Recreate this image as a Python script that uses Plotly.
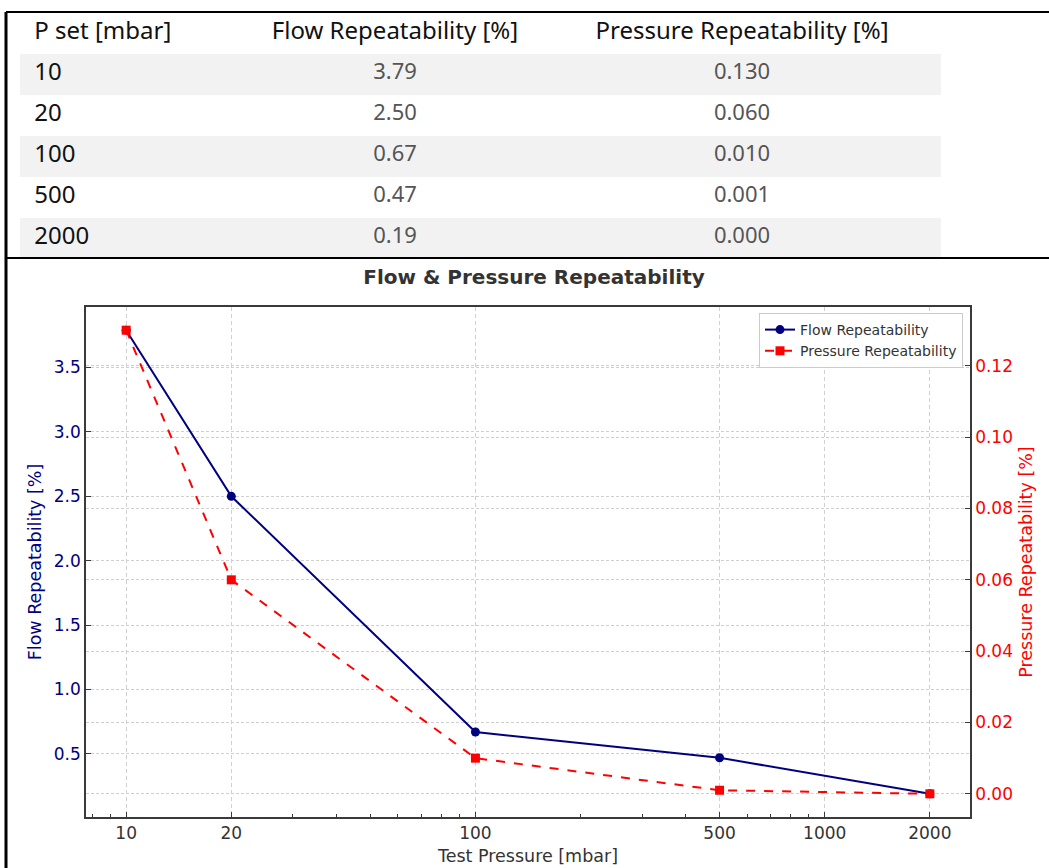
import plotly.graph_objects as go

# ---- data ----
pressure_set = [10, 20, 100, 500, 2000]
flow_rep = [3.79, 2.50, 0.67, 0.47, 0.19]
press_rep = [0.130, 0.060, 0.010, 0.001, 0.000]
table_headers = ["P set [mbar]", "Flow Repeatability [%]", "Pressure Repeatability [%]"]
flow_txt = ["3.79", "2.50", "0.67", "0.47", "0.19"]
press_txt = ["0.130", "0.060", "0.010", "0.001", "0.000"]
x_ticks = [10, 20, 100, 500, 1000, 2000]
x_minor = [8, 9, 30, 40, 50, 60, 70, 80, 90, 200, 300, 400, 600, 700, 800, 900]

W, H = 1049, 868
def px(x): return x / W
def py(y): return 1 - y / H

NAVY = "#000080"
RED = "#ff0000"
DARK = "#333333"
FONT = "DejaVu Sans"
NB = "\u00a0"

fig = go.Figure()

# ---- table ----
shade = "#f2f2f2"
row_fill = [shade if i % 2 == 0 else "white" for i in range(len(pressure_set))]
fig.add_trace(go.Table(
    domain=dict(x=[px(20), px(941)], y=[py(259), py(13)]),
    columnwidth=[227, 296, 398],
    header=dict(
        values=[NB + table_headers[0], table_headers[1], table_headers[2]],
        align=["left", "center", "center"],
        fill_color="white",
        line=dict(width=0, color="white"),
        font=dict(family="Noto Sans", size=24, color="#111111"),
        height=41,
    ),
    cells=dict(
        values=[[NB + str(v) for v in pressure_set], flow_txt, press_txt],
        align=["left", "center", "center"],
        fill_color=[row_fill, row_fill, row_fill],
        line=dict(width=0, color=shade),
        font=dict(family="Noto Sans", size=[24, 22, 22], color=["#111111", "#555555", "#555555"]),
        height=41,
    ),
))

# ---- chart ----
fig.add_trace(go.Scatter(
    x=pressure_set, y=flow_rep, name="Flow Repeatability",
    mode="lines+markers", line=dict(color=NAVY, width=2),
    marker=dict(symbol="circle", size=9, color=NAVY),
    xaxis="x", yaxis="y",
))
fig.add_trace(go.Scatter(
    x=pressure_set, y=press_rep, name="Pressure Repeatability",
    mode="lines+markers", line=dict(color=RED, width=2, dash="dash"),
    marker=dict(symbol="square", size=9, color=RED),
    xaxis="x", yaxis="y2",
))

xgrid = dict(showgrid=True, gridcolor="#d0d0d0", gridwidth=1, griddash="4px,3px")
ygrid = dict(showgrid=True, gridcolor="#d0d0d0", gridwidth=1, griddash="3px,2px")
axis_common = dict(showline=True, linecolor="#3a3a3a", linewidth=1.5,
                   ticks="inside", ticklen=5, tickcolor="#3a3a3a", zeroline=False)

fig.update_layout(
    width=W, height=H,
    margin=dict(l=0, r=0, t=0, b=0),
    paper_bgcolor="white", plot_bgcolor="white",
    font=dict(family=FONT, size=17, color=DARK),
    showlegend=True,
    legend=dict(x=px(963), y=py(313), xanchor="right", yanchor="top",
                bgcolor="white", bordercolor="#cccccc", borderwidth=1,
                font=dict(family=FONT, size=14, color=DARK), tracegroupgap=0),
    title=dict(text="<b>Flow & Pressure Repeatability</b>", x=px(534), xanchor="center",
               y=py(277), yanchor="middle", font=dict(family=FONT, size=20, color=DARK)),
    xaxis=dict(
        type="log", domain=[px(86), px(970)], anchor="y",
        range=[0.885, 3.416], tickvals=x_ticks, ticktext=[str(t) for t in x_ticks],
        mirror=True, automargin=False,
        tickfont=dict(size=17, color=DARK),
        title=dict(text="Test Pressure [mbar]", font=dict(size=17.5, color=DARK), standoff=8),
        minor=dict(tickvals=x_minor, ticks="inside", ticklen=3, tickcolor="#3a3a3a", showgrid=False),
        **xgrid, **axis_common,
    ),
    yaxis=dict(
        domain=[py(817), py(307)], anchor="x",
        range=[0.01, 3.97], dtick=0.5, tick0=0, tickformat=".1f",
        mirror=True, automargin=False,
        tickfont=dict(size=17, color=NAVY),
        title=dict(text="Flow Repeatability [%]", font=dict(size=17.5, color=NAVY), standoff=8),
        **ygrid, **axis_common,
    ),
    yaxis2=dict(
        overlaying="y", side="right", anchor="x",
        range=[-0.0065, 0.1365], dtick=0.02, tick0=0, tickformat=".2f",
        automargin=False,
        tickfont=dict(size=17, color=RED),
        title=dict(text="Pressure Repeatability [%]", font=dict(size=17.5, color=RED), standoff=8),
        **ygrid, **axis_common,
    ),
    shapes=[
        dict(type="line", xref="paper", yref="paper", x0=px(6), x1=1, y0=py(12), y1=py(12),
             line=dict(color="black", width=2)),
        dict(type="line", xref="paper", yref="paper", x0=px(6), x1=1, y0=py(258), y1=py(258),
             line=dict(color="black", width=2)),
        dict(type="line", xref="paper", yref="paper", x0=px(6), x1=px(6), y0=0, y1=py(12),
             line=dict(color="black", width=3)),
    ],
)

fig.write_html("out.html", config={"displayModeBar": False},
               post_script="document.body.style.margin='0';")
